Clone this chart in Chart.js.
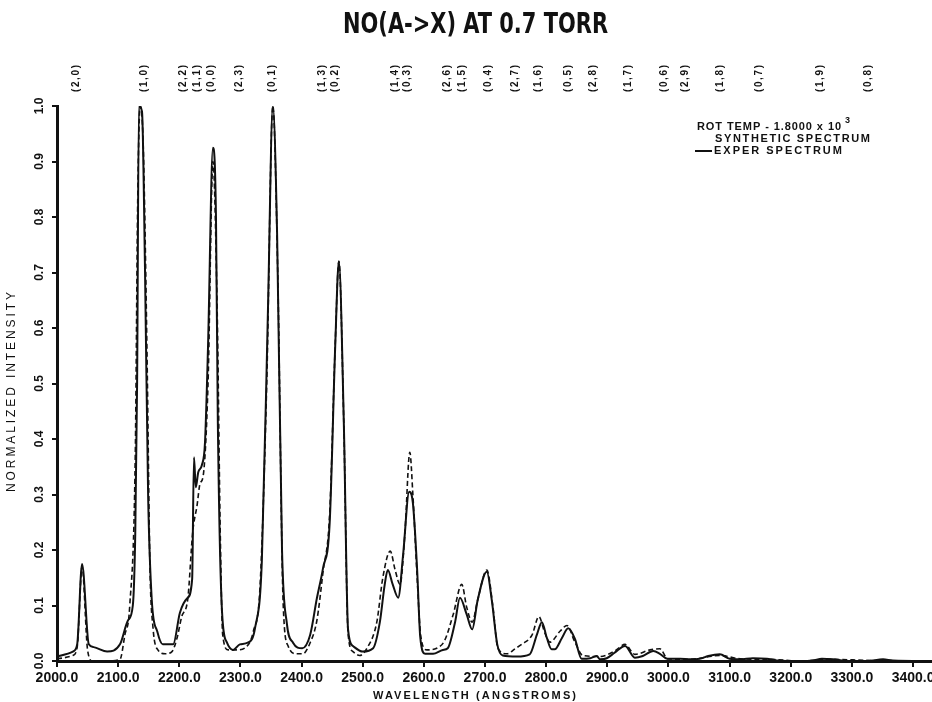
<!DOCTYPE html>
<html>
<head>
<meta charset="utf-8">
<title>NO(A->X) AT 0.7 TORR</title>
<script src="https://cdn.jsdelivr.net/npm/chart.js@4.4.1/dist/chart.umd.min.js"></script>
<style>
  html, body { margin: 0; padding: 0; background: #fff; }
  #wrap { width: 932px; height: 702px; }
</style>
</head>
<body>
<div id="wrap"><canvas id="spectrum" width="932" height="702"></canvas></div>
<script>
const experWavelength = [2000, 2026, 2033, 2041, 2052, 2060, 2082, 2103, 2116, 2124, 2128, 2131, 2134, 2139, 2144, 2149, 2155, 2164, 2173, 2190,
  2201, 2213, 2221, 2224, 2227, 2231, 2237, 2242, 2247, 2255, 2260, 2263, 2270, 2278, 2288, 2299, 2312, 2324, 2335, 2345,
  2353, 2360, 2368, 2376, 2386, 2401, 2414, 2425, 2435, 2446, 2455, 2461, 2469, 2476, 2484, 2500, 2517, 2528, 2536, 2541,
  2549, 2558, 2566, 2576, 2582, 2589, 2594, 2602, 2615, 2631, 2639, 2651, 2659, 2670, 2679, 2688, 2703, 2711, 2720, 2729,
  2752, 2773, 2785, 2793, 2801, 2809, 2814, 2826, 2836, 2847, 2858, 2872, 2883, 2888, 2899, 2912, 2929, 2945, 2958, 2975,
  2986, 2998, 3019, 3035, 3051, 3065, 3084, 3100, 3117, 3138, 3161, 3177, 3215, 3236, 3251, 3269, 3292, 3325, 3351, 3367, 3430];
const experIntensity = [0.008, 0.017, 0.03, 0.175, 0.03, 0.025, 0.017, 0.03, 0.073, 0.1, 0.23, 0.5, 1.0, 0.99, 0.7, 0.3, 0.11, 0.053, 0.03, 0.03,
  0.087, 0.113, 0.147, 0.367, 0.313, 0.34, 0.353, 0.393, 0.567, 0.925, 0.8, 0.433, 0.087, 0.033, 0.02, 0.03, 0.033, 0.06, 0.18, 0.633,
  1.0, 0.767, 0.2, 0.067, 0.033, 0.023, 0.047, 0.113, 0.167, 0.25, 0.567, 0.72, 0.433, 0.057, 0.027, 0.017, 0.023, 0.07, 0.138, 0.164,
  0.138, 0.114, 0.191, 0.305, 0.285, 0.164, 0.044, 0.013, 0.013, 0.02, 0.023, 0.07, 0.114, 0.084, 0.057, 0.11, 0.161, 0.11, 0.03, 0.01,
  0.008, 0.012, 0.048, 0.07, 0.042, 0.021, 0.021, 0.042, 0.059, 0.04, 0.004, 0.005, 0.009, 0.003, 0.005, 0.015, 0.027, 0.006, 0.009, 0.018,
  0.013, 0.004, 0.004, 0.003, 0.004, 0.009, 0.012, 0.004, 0.003, 0.005, 0.004, 0.001, 0.0, 0.001, 0.004, 0.003, 0.0, 0.0, 0.003, 0.001, 0.0];

// Synthetic spectrum (dashed line)
const synthWavelength = [2000, 2026, 2033, 2041, 2050, 2058, 2082, 2103, 2111, 2119, 2128, 2132, 2136, 2141, 2147, 2152, 2157, 2165, 2177, 2188,
  2196, 2204, 2214, 2222, 2229, 2234, 2239, 2247, 2255, 2262, 2267, 2271, 2280, 2294, 2311, 2321, 2332, 2343, 2353, 2361,
  2370, 2378, 2392, 2402, 2414, 2425, 2435, 2446, 2455, 2461, 2469, 2476, 2484, 2495, 2507, 2523, 2533, 2545, 2553, 2561,
  2569, 2577, 2582, 2589, 2595, 2605, 2621, 2634, 2648, 2662, 2670, 2679, 2688, 2703, 2713, 2721, 2736, 2749, 2760, 2777,
  2788, 2798, 2806, 2823, 2834, 2847, 2860, 2888, 2912, 2929, 2945, 2970, 2986, 2999, 3035, 3084, 3117, 3166, 3215, 3264, 3329, 3430];
const synthIntensity = [0.004, 0.01, 0.025, 0.17, 0.02, 0.0, 0.0, 0.003, 0.047, 0.1, 0.37, 0.83, 1.0, 0.93, 0.57, 0.17, 0.06, 0.02, 0.013, 0.017,
  0.04, 0.08, 0.113, 0.233, 0.28, 0.32, 0.333, 0.5, 0.9, 0.63, 0.23, 0.047, 0.02, 0.02, 0.027, 0.053, 0.133, 0.5, 1.0, 0.7,
  0.1, 0.027, 0.013, 0.013, 0.033, 0.073, 0.16, 0.267, 0.57, 0.72, 0.43, 0.05, 0.017, 0.01, 0.023, 0.07, 0.151, 0.198, 0.164, 0.138,
  0.23, 0.376, 0.3, 0.15, 0.044, 0.02, 0.023, 0.037, 0.084, 0.138, 0.097, 0.07, 0.11, 0.164, 0.097, 0.023, 0.013, 0.022, 0.03, 0.047,
  0.08, 0.05, 0.034, 0.054, 0.064, 0.034, 0.01, 0.008, 0.018, 0.03, 0.012, 0.02, 0.022, 0.004, 0.003, 0.01, 0.004, 0.003, 0.0, 0.003, 0.001, 0.0];

// Band identifications along the top
const bandLabels = ['(2,0)', '(1,0)', '(2,2)', '(1,1)', '(0,0)', '(2,3)', '(0,1)', '(1,3)', '(0,2)', '(1,4)', '(0,3)', '(2,6)', '(1,5)',
  '(0,4)', '(2,7)', '(1,6)', '(0,5)', '(2,8)', '(1,7)', '(0,6)', '(2,9)', '(1,8)', '(0,7)', '(1,9)', '(0,8)'];
const bandWavelength = [2031, 2142, 2206, 2229, 2252, 2298, 2352, 2433, 2455, 2553, 2572, 2639, 2662,
  2706, 2749, 2787, 2836, 2877, 2934, 2993, 3027, 3084, 3148, 3248, 3327];

// Axis ticks
const xTickValues = [2000, 2100, 2200, 2300, 2400, 2500, 2600, 2700, 2800, 2900, 3000, 3100, 3200, 3300, 3400];
const yTickValues = [0, 0.1, 0.2, 0.3, 0.4, 0.5, 0.6, 0.7, 0.8, 0.9, 1.0];

const legendLines = ['ROT TEMP - 1.8000 x 10', 'SYNTHETIC SPECTRUM', 'EXPER SPECTRUM'];

const INK = '#111';
const FONT = '"Liberation Sans", Arial, sans-serif';

// draw text left-aligned, spread out to a given width
function spacedText(ctx, text, x, y, width) {
  ctx.letterSpacing = '0px';
  const natural = ctx.measureText(text).width;
  const gap = text.length > 1 ? (width - natural) / (text.length - 1) : 0;
  ctx.letterSpacing = gap.toFixed(2) + 'px';
  ctx.textAlign = 'left';
  ctx.fillText(text, x, y);
  ctx.letterSpacing = '0px';
}

const decorPlugin = {
  id: 'decor',
  afterDraw(chart) {
    const ctx = chart.ctx;
    const xs = chart.scales.x;
    const ys = chart.scales.y;
    ctx.save();
    ctx.fillStyle = INK;
    ctx.textBaseline = 'middle';

    // title, condensed
    ctx.font = 'bold 28px "Liberation Sans Narrow", "DejaVu Sans Condensed", ' + FONT;
    const title = 'NO(A->X) AT 0.7 TORR';
    const tw = ctx.measureText(title).width;
    ctx.save();
    ctx.translate(343, 26);
    ctx.scale(265 / tw, 1);
    ctx.textAlign = 'left';
    ctx.fillText(title, 0, 0);
    ctx.restore();

    // band labels, rotated
    ctx.font = 'bold 10px ' + FONT;
    bandLabels.forEach((lab, i) => {
      ctx.save();
      ctx.translate(xs.getPixelForValue(bandWavelength[i]), 92);
      ctx.rotate(-Math.PI / 2);
      spacedText(ctx, lab, 0, 0, 27);
      ctx.restore();
    });

    // y tick labels, rotated
    ctx.font = 'bold 12px ' + FONT;
    yTickValues.forEach(v => {
      ctx.save();
      ctx.translate(40, ys.getPixelForValue(v));
      ctx.rotate(-Math.PI / 2);
      ctx.textAlign = 'center';
      ctx.fillText(v.toFixed(1), 0, 0);
      ctx.restore();
    });

    // y axis title
    ctx.font = '12px ' + FONT;
    ctx.save();
    ctx.translate(12, 492);
    ctx.rotate(-Math.PI / 2);
    spacedText(ctx, 'NORMALIZED INTENSITY', 0, 0, 200);
    ctx.restore();

    // x axis title
    ctx.font = 'bold 11px ' + FONT;
    spacedText(ctx, 'WAVELENGTH (ANGSTROMS)', 373, 696, 203);

    // legend
    ctx.font = 'bold 11px ' + FONT;
    spacedText(ctx, legendLines[0], 697, 127, 144);
    ctx.font = 'bold 9px ' + FONT;
    ctx.textAlign = 'left';
    ctx.fillText('3', 845, 121);
    ctx.font = 'bold 11px ' + FONT;
    spacedText(ctx, legendLines[1], 715, 139, 155);
    spacedText(ctx, legendLines[2], 714, 151, 128);
    ctx.strokeStyle = INK;
    ctx.lineWidth = 2;
    ctx.beginPath();
    ctx.moveTo(695, 151);
    ctx.lineTo(712, 151);
    ctx.stroke();

    ctx.restore();
  }
};

const experData = experWavelength.map((w, i) => ({ x: w, y: experIntensity[i] }));
const synthData = synthWavelength.map((w, i) => ({ x: w, y: synthIntensity[i] }));

new Chart(document.getElementById('spectrum'), {
  type: 'line',
  data: {
    datasets: [{
      label: 'SYNTHETIC SPECTRUM',
      data: synthData,
      borderColor: INK,
      borderWidth: 1.6,
      borderDash: [5, 3],
      pointRadius: 0,
      cubicInterpolationMode: 'monotone',
      fill: false
    }, {
      label: 'EXPER SPECTRUM',
      data: experData,
      borderColor: INK,
      borderWidth: 2,
      pointRadius: 0,
      cubicInterpolationMode: 'monotone',
      fill: false
    }]
  },
  options: {
    responsive: false,
    animation: false,
    events: [],
    layout: { padding: { top: 106, right: 0, bottom: 0, left: 0 } },
    scales: {
      x: {
        type: 'linear',
        min: 2000,
        max: 3431,
        afterBuildTicks: s => { s.ticks = xTickValues.map(v => ({ value: v })); },
        afterFit: s => { s.height = 41; s.paddingLeft = 0; s.paddingRight = 0; },
        ticks: {
          color: INK,
          autoSkip: false,
          maxRotation: 0,
          padding: 3,
          font: { family: FONT, size: 14, weight: 'bold' },
          callback: v => v.toFixed(1)
        },
        grid: { drawOnChartArea: false, color: INK, lineWidth: 2, tickLength: 6 },
        border: { color: INK, width: 3 }
      },
      y: {
        min: 0,
        max: 1,
        afterBuildTicks: s => { s.ticks = yTickValues.map(v => ({ value: v })); },
        afterFit: s => { s.width = 57; s.paddingTop = 0; s.paddingBottom = 0; },
        ticks: { display: false },
        grid: { drawOnChartArea: false, color: INK, lineWidth: 2, tickLength: 5 },
        border: { color: INK, width: 3 }
      }
    },
    plugins: {
      legend: { display: false },
      tooltip: { enabled: false },
      title: { display: false }
    }
  },
  plugins: [decorPlugin]
});
</script>
</body>
</html>
